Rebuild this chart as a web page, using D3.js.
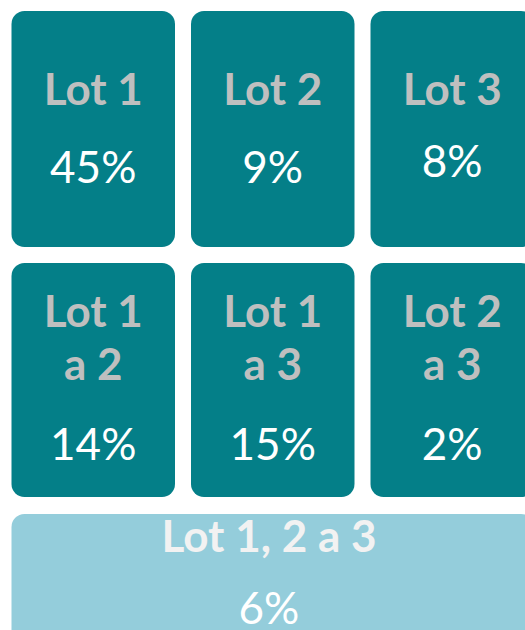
<!DOCTYPE html>
<html>
<head>
<meta charset="utf-8">
<script src="https://cdn.jsdelivr.net/npm/d3@7"></script>
<style>
  html, body { margin: 0; padding: 0; background: #ffffff; overflow: hidden; }
  svg { display: block; }
</style>
</head>
<body>
<div id="chart"></div>
<script>
// ---- data ----
const titles = [
  ["Lot 1"], ["Lot 2"], ["Lot 3"],
  ["Lot 1", "a 2"], ["Lot 1", "a 3"], ["Lot 2", "a 3"],
  ["Lot 1, 2 a 3"]
];
const values = [45, 9, 8, 14, 15, 2, 6];
const rowsIdx = [0, 0, 0, 1, 1, 1, 2];
const colsIdx = [0, 1, 2, 0, 1, 2, 0];
const spans = [1, 1, 1, 1, 1, 1, 3];

// ---- layout ----
const W = 525, H = 630;
const svg = d3.select("#chart").append("svg").attr("width", W).attr("height", H);

const x = d3.scaleLinear().domain([0, 3]).range([11.5, 550]);
const colGap = 16;
const rowTop = [11, 263, 514];
const rowBottom = [247, 497, 680];

const fill = (r) => r === 2 ? "#94cddb" : "#047f88";
const titleFill = (r) => r === 2 ? "#f2f2f2" : "#bfbfbf";

const data = values.map((v, i) => ({
  v, t: titles[i], r: rowsIdx[i], c: colsIdx[i], s: spans[i]
}));

const g = svg.selectAll("g.cell").data(data).join("g").attr("class", "cell");

g.append("rect")
  .attr("x", d => x(d.c))
  .attr("y", d => rowTop[d.r])
  .attr("width", d => x(d.c + d.s) - x(d.c) - colGap)
  .attr("height", d => rowBottom[d.r] - rowTop[d.r])
  .attr("rx", 13).attr("ry", 13)
  .attr("fill", d => fill(d.r));

const cx = d => d.r === 2 ? 269 : (x(d.c) + (x(d.c + 1) - colGap)) / 2;

g.each(function(d) {
  const sel = d3.select(this);
  const base = d.r === 0 ? 105 : d.r === 1 ? 327 : 552;
  d.t.forEach((line, k) => {
    sel.append("text")
      .attr("x", cx(d))
      .attr("y", base + k * 53)
      .attr("text-anchor", "middle")
      .attr("font-family", "Lato, 'Open Sans', sans-serif")
      .attr("font-weight", "bold")
      .attr("font-size", 44)
      .attr("fill", titleFill(d.r))
      .text(line);
  });
  const vBase = d.r === 0 ? (d.c === 2 ? 177 : 183) : d.r === 1 ? 460 : 624;
  sel.append("text")
    .attr("x", cx(d))
    .attr("y", vBase)
    .attr("text-anchor", "middle")
    .attr("font-family", "Lato, 'Open Sans', sans-serif")
    .attr("font-size", 44)
    .attr("fill", "#ffffff")
    .text(d3.format("d")(d.v) + "%");
});
</script>
</body>
</html>
